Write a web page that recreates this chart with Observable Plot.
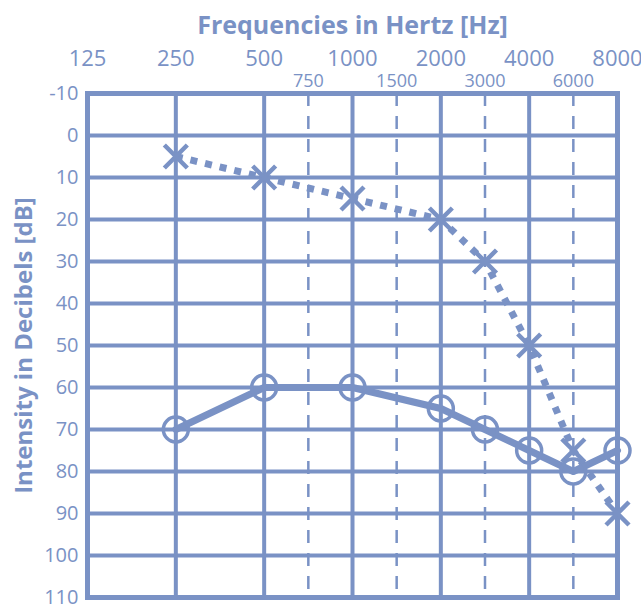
<!DOCTYPE html>
<html>
<head>
<meta charset="utf-8">
<script src="https://cdn.jsdelivr.net/npm/d3@7"></script>
<script src="https://cdn.jsdelivr.net/npm/@observablehq/plot@0.6"></script>
<style>
  html, body { margin: 0; padding: 0; background: #fff; }
</style>
</head>
<body>
<div id="chart"></div>
<script>
const majorFreqs = [125, 250, 500, 1000, 2000, 4000, 8000];
const minorFreqs = [750, 1500, 3000, 6000];
const dbTicks = [-10, 0, 10, 20, 30, 40, 50, 60, 70, 80, 90, 100, 110];
const freqs = [250, 500, 1000, 2000, 3000, 4000, 6000, 8000];
const rightEar = [70, 60, 60, 65, 70, 75, 80, 75];
const leftEar = [5, 10, 15, 20, 30, 50, 75, 90];

const C = "#7a92c5";
const FONT = "'Open Sans', sans-serif";

// audiogram position: octave index, linear within an octave
function audioPos(f) {
  const o = Math.floor(Math.log2(f / 125) + 1e-9);
  return o + (f / (125 * Math.pow(2, o)) - 1);
}

const rightData = freqs.map((f, i) => ({f, db: rightEar[i]}));
const leftData = freqs.map((f, i) => ({f, db: leftEar[i]}));

const chart = Plot.plot({
  width: 641,
  height: 606,
  marginTop: 93,
  marginBottom: 9,
  marginLeft: 87,
  marginRight: 24,
  style: {fontFamily: FONT, background: "#fff", overflow: "visible"},
  x: {type: "linear", transform: audioPos, axis: null},
  y: {domain: [-10, 110], reverse: true, axis: null},
  marks: [
    Plot.ruleY(dbTicks, {y: d => d, stroke: C, strokeWidth: 4}),
    Plot.ruleX(majorFreqs, {x: d => d, stroke: C, strokeWidth: 4}),
    Plot.ruleX(minorFreqs, {x: d => d, stroke: C, strokeWidth: 2.5, strokeDasharray: "13,10"}),
    Plot.frame({stroke: C, strokeWidth: 5}),
    Plot.line(leftData, {x: "f", y: "db", stroke: C, strokeWidth: 7, strokeDasharray: "7,8", strokeLinecap: "butt", strokeLinejoin: "miter"}),
    Plot.line(rightData, {x: "f", y: "db", stroke: C, strokeWidth: 7}),
    Plot.dot(rightData, {x: "f", y: "db", r: 12.5, stroke: C, strokeWidth: 3.5, fill: "none"}),
    Plot.dot(leftData, {x: "f", y: "db", r: 10.5, symbol: "times", stroke: C, strokeWidth: 4.5}),
    Plot.text(majorFreqs, {x: d => d, text: d => String(d), frameAnchor: "top", lineAnchor: "middle", dy: -35, fill: C, fontSize: 22}),
    Plot.text(minorFreqs, {x: d => d, text: d => String(d), frameAnchor: "top", lineAnchor: "middle", dy: -12, fill: C, fontSize: 18}),
    Plot.text(dbTicks, {y: d => d, text: d => String(d), frameAnchor: "left", lineAnchor: "middle", dx: -9, textAnchor: "end", fill: C, fontSize: 20}),
    Plot.text(["Frequencies in Hertz [Hz]"], {text: d => d, frameAnchor: "top", lineAnchor: "middle", dy: -68, fill: C, fontSize: 25, fontWeight: "bold"}),
    Plot.text(["Intensity in Decibels [dB]"], {text: d => d, frameAnchor: "left", lineAnchor: "middle", textAnchor: "middle", dx: -63, rotate: -90, fill: C, fontSize: 24, fontWeight: "bold"})
  ]
});
document.getElementById("chart").appendChild(chart);
</script>
</body>
</html>
